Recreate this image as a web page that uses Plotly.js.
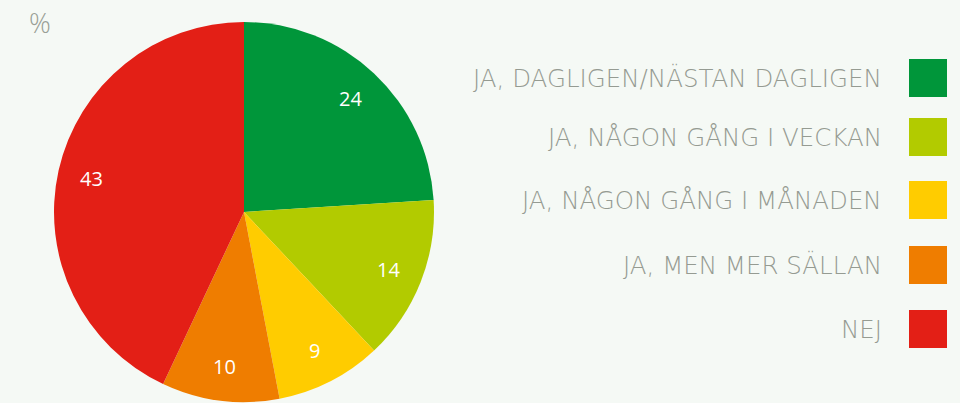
<!DOCTYPE html>
<html><head><meta charset="utf-8">
<script src="https://cdn.plot.ly/plotly-3.0.1.min.js"></script>
<style>html,body{margin:0;padding:0;background:#f5f9f5;}#c{width:960px;height:403px;}</style>
</head><body><div id="c"></div>
<script>
const categories = ["JA, DAGLIGEN/NÄSTAN DAGLIGEN","JA, NÅGON GÅNG I VECKAN","JA, NÅGON GÅNG I MÅNADEN","JA, MEN MER SÄLLAN","NEJ"];
const values = [24, 14, 9, 10, 43];
const colors = ["#00963a","#b2cb00","#ffcc00","#ef7d00","#e31f16"];
const legendY = [78, 137, 200, 265, 329];

const W = 960, H = 403;
const CX = 244, CY = 212, R = 190;
const FONT = "'Open Sans', sans-serif";
const LFONT = "'DejaVu Sans', sans-serif";
const trace = {
  type: "pie",
  labels: categories,
  values: values,
  sort: false,
  direction: "clockwise",
  rotation: 0,
  marker: {colors: colors, line: {width: 0}},
  textinfo: "none",
  domain: {x: [(CX-R)/W, (CX+R)/W], y: [(H-(CY+R))/H, (H-(CY-R))/H]},
  hoverinfo: "label+value",
  showlegend: false
};
const annotations = [{
  text: "%", xref: "paper", yref: "paper", x: 40/W, y: 1-23/H, xanchor: "center", yanchor: "middle",
  showarrow: false, font: {family: FONT, size: 27, color: "#999f96", weight: 300}
}];
const total = values.reduce((a, b) => a + b, 0);
let cum = 0;
values.forEach((v) => {
  const mid = (cum + v / 2) / total * 2 * Math.PI;
  cum += v;
  const px = CX + 0.82 * R * Math.sin(mid);
  const py = CY - 0.82 * R * Math.cos(mid);
  annotations.push({
    text: String(v), xref: "paper", yref: "paper", x: px / W, y: 1 - py / H,
    xanchor: "center", yanchor: "middle", showarrow: false,
    font: {family: FONT, size: 20, color: "#ffffff"}
  });
});
const shapes = [];
categories.forEach((c, i) => {
  annotations.push({
    text: c, xref: "paper", yref: "paper", x: 884/W, y: 1-legendY[i]/H, xanchor: "right", yanchor: "middle",
    showarrow: false, font: {family: LFONT, size: 24.5, color: "#959b92", weight: 200}
  });
  shapes.push({
    type: "rect", xref: "paper", yref: "paper", x0: 909/W, x1: 947/W,
    y0: 1-(legendY[i]+19)/H, y1: 1-(legendY[i]-19)/H,
    fillcolor: colors[i], line: {width: 0}
  });
});
Plotly.newPlot("c", [trace], {
  width: W, height: H, margin: {l:0,r:0,t:0,b:0},
  paper_bgcolor: "#f5f9f5", plot_bgcolor: "#f5f9f5",
  annotations: annotations, shapes: shapes
}, {displayModeBar: false, staticPlot: true});
</script></body></html>
